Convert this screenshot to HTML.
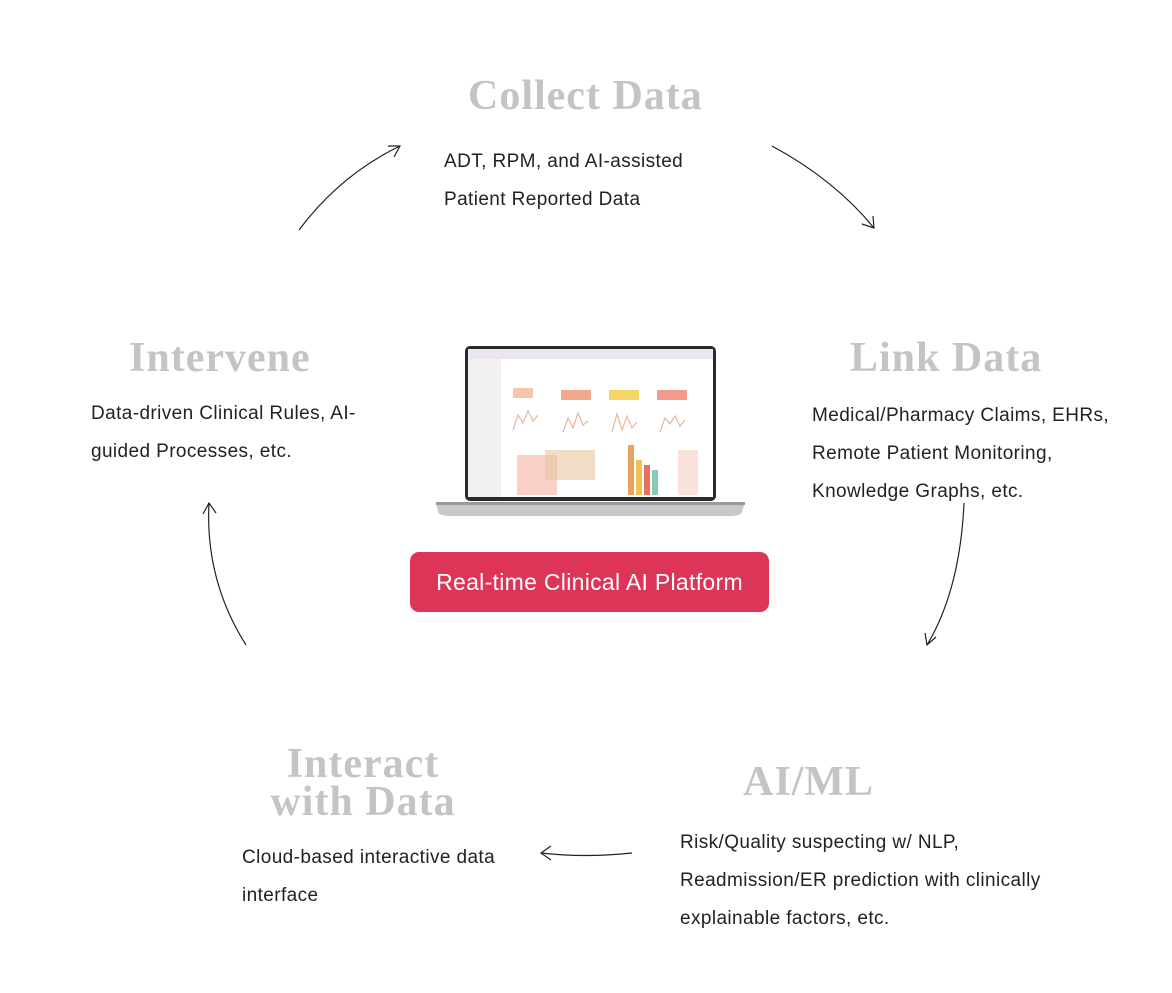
<!DOCTYPE html>
<html><head><meta charset="utf-8"><style>
body{margin:0;width:1172px;height:993px;background:#fff;position:relative;overflow:hidden;font-family:"Liberation Sans",sans-serif}
.h{position:absolute;font-family:"Liberation Serif",serif;font-weight:bold;color:#c4c4c4;font-size:42px;letter-spacing:1px;line-height:38px;white-space:nowrap}
.t{position:absolute;font-size:19px;letter-spacing:0.4px;line-height:38px;color:#222;white-space:nowrap}
</style></head><body>
<div class="h" style="left:468px;top:77px">Collect Data</div>
<div class="t" style="left:444px;top:143px">ADT, RPM, and AI-assisted<br>Patient Reported Data</div>
<div class="h" style="left:850px;top:339px">Link Data</div>
<div class="t" style="left:812px;top:397px">Medical/Pharmacy Claims, EHRs,<br>Remote Patient Monitoring,<br>Knowledge Graphs, etc.</div>
<div class="h" style="left:129px;top:339px">Intervene</div>
<div class="t" style="left:91px;top:395px">Data-driven Clinical Rules, AI-<br>guided Processes, etc.</div>
<div class="h" style="left:743px;top:763px">AI/ML</div>
<div class="t" style="left:680px;top:824px">Risk/Quality suspecting w/ NLP,<br>Readmission/ER prediction with clinically<br>explainable factors, etc.</div>
<div class="h" style="left:258px;top:745px;text-align:center;width:210px">Interact<br>with Data</div>
<div class="t" style="left:242px;top:839px">Cloud-based interactive data<br>interface</div>

<svg style="position:absolute;left:0;top:0" width="1172" height="993" fill="none" stroke="#222" stroke-width="1.2">
<path d="M299 230 Q340 175 400 146"/><path d="M388 146 L400 146 L394 157"/>
<path d="M772 146 Q835 180 874 228"/><path d="M862 224 L874 228 L873 216"/>
<path d="M964 503 Q960 590 927 645"/><path d="M925 633 L927 645 L936 637"/>
<path d="M632 853 Q585 858 541 853"/><path d="M551 846 L541 853 L551 860"/>
<path d="M246 645 Q205 580 209 503"/><path d="M203 514 L209 503 L216 513"/>
<rect x="465" y="346" width="251" height="155" rx="5" fill="#2a2a2a" stroke="none"/>
<rect x="468" y="349" width="245" height="148" fill="#fff" stroke="none"/>
<rect x="468" y="349" width="245" height="10" fill="#ece6f2" stroke="none"/>
<rect x="468" y="359" width="33" height="138" fill="#f3f0f0" stroke="none"/>
<g stroke="none">
<rect x="513" y="388" width="20" height="10" fill="#f3c7a8"/>
<rect x="561" y="390" width="30" height="10" fill="#f0a98f"/>
<rect x="609" y="390" width="30" height="10" fill="#f3d56a"/>
<rect x="657" y="390" width="30" height="10" fill="#f29a8c"/>
<path d="M513 430 l5 -15 5 8 5 -12 5 10 5 -6" stroke="#e8b89a" fill="none"/>
<path d="M563 432 l5 -14 5 10 5 -15 5 12 5 -4" stroke="#e8b89a" fill="none"/>
<path d="M612 432 l5 -18 5 16 5 -14 5 12 5 -6" stroke="#e8b89a" fill="none"/>
<path d="M660 432 l5 -14 5 6 5 -8 5 10 5 -6" stroke="#e8b89a" fill="none"/>
<rect x="517" y="455" width="40" height="40" fill="#f4b0a0" opacity=".6"/>
<rect x="545" y="450" width="50" height="30" fill="#e7c4a0" opacity=".6"/>
<rect x="628" y="445" width="6" height="50" fill="#e8a060"/>
<rect x="636" y="460" width="6" height="35" fill="#f0c050"/>
<rect x="644" y="465" width="6" height="30" fill="#e87060"/>
<rect x="652" y="470" width="6" height="25" fill="#8cc8b8"/>
<rect x="678" y="450" width="20" height="45" fill="#f4cfc0" opacity=".6"/>
<path d="M436 502 L745 502 L742 512 Q740 516 730 516 L450 516 Q440 516 438 512 Z" fill="#c8c8c8"/>
<rect x="436" y="502" width="309" height="3" fill="#9a9a9a"/>
</g>
</svg>
<div style="position:absolute;left:410px;top:552px;width:359px;height:60px;background:#dc3558;border-radius:9px;color:#fff;font-size:23px;letter-spacing:0.3px;line-height:60px;text-align:center">Real-time Clinical AI Platform</div>
</body></html>
